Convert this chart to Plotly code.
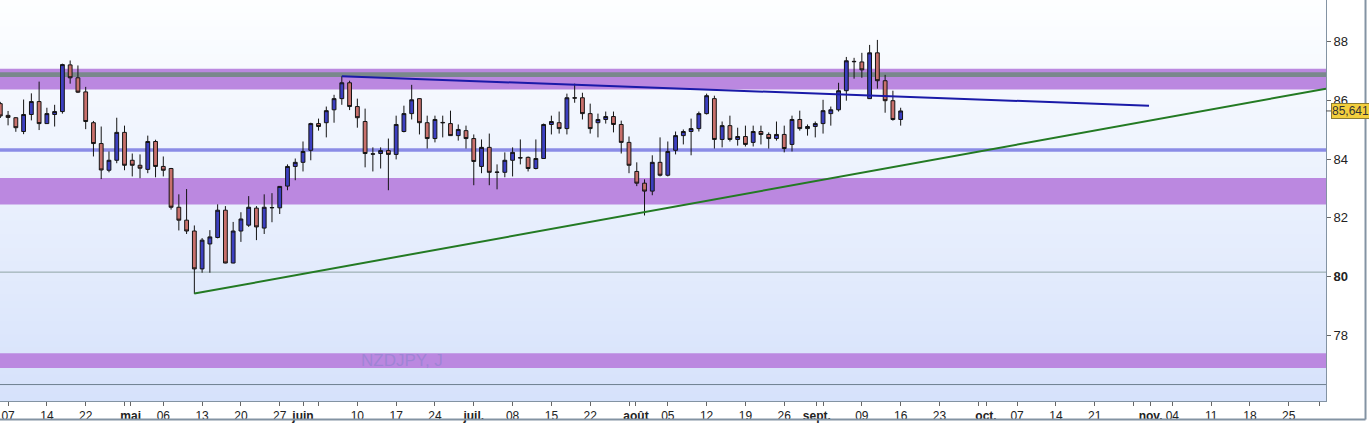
import plotly.graph_objects as go
import pandas as pd

# NZDJPY daily candles, 5 Apr - 16 Sep 2024
opens = [85.89, 85.49, 85.41, 84.94, 85.52, 85.96, 85.21, 85.52, 85.62, 87.21,
         86.77, 86.29, 85.24, 84.53, 83.62, 83.96, 84.91, 83.96, 83.79, 83.65,
         84.60, 83.75, 83.68, 82.36, 81.92, 81.55, 80.26, 81.11, 81.33, 82.26,
         80.46, 81.55, 81.75, 82.33, 81.65, 82.34, 82.34, 83.08, 83.75, 83.89,
         84.30, 85.21, 85.24, 85.68, 86.06, 86.60, 85.79, 85.28, 84.18, 84.19,
         84.29, 84.16, 84.94, 85.55, 86.06, 85.24, 84.70, 85.25, 85.21, 84.80,
         84.97, 84.70, 83.75, 84.40, 83.56, 83.55, 83.96, 84.05, 84.06, 83.68,
         84.02, 85.18, 85.24, 85.04, 86.09, 86.09, 85.55, 85.24, 85.35, 85.45,
         85.18, 84.57, 83.58, 83.18, 82.91, 83.89, 83.45, 84.30, 84.80, 84.94,
         85.04, 85.55, 86.06, 84.67, 85.14, 84.67, 84.77, 84.57, 84.94, 84.84,
         84.70, 84.84, 84.50, 85.35, 85.04, 85.11, 85.21, 85.55, 85.68, 86.33,
         87.33, 87.31, 86.06, 87.62, 86.67, 85.99, 85.35]
highs = [85.95, 85.64, 85.43, 86.03, 86.24, 86.64, 85.75, 85.85, 87.25, 87.36,
         87.19, 86.46, 85.30, 85.11, 84.26, 85.41, 85.14, 84.19, 84.16, 84.80,
         84.66, 84.09, 83.70, 82.80, 82.98, 81.74, 81.31, 81.58, 82.46, 82.40,
         81.86, 82.19, 82.74, 82.40, 82.80, 82.84, 83.08, 83.82, 84.02, 84.60,
         85.24, 85.38, 85.79, 86.19, 86.82, 86.67, 86.06, 85.72, 84.40, 84.40,
         84.70, 85.48, 85.82, 86.53, 86.07, 85.48, 85.48, 85.48, 85.65, 85.18,
         85.14, 84.84, 84.67, 84.87, 83.82, 84.23, 84.40, 84.67, 84.09, 84.67,
         85.21, 85.48, 85.62, 86.23, 86.57, 86.26, 85.89, 85.55, 85.62, 85.62,
         85.31, 84.77, 83.89, 83.31, 84.13, 84.74, 84.60, 84.94, 85.01, 85.38,
         85.62, 86.23, 86.16, 85.28, 85.48, 85.07, 85.14, 85.14, 85.14, 84.91,
         85.28, 85.14, 85.48, 85.65, 85.18, 85.28, 86.02, 85.79, 86.60, 87.48,
         87.45, 87.62, 87.89, 88.06, 86.87, 86.33, 85.75]
lows = [85.40, 85.15, 84.93, 84.85, 85.32, 84.99, 85.20, 85.11, 85.55, 86.57,
        86.25, 85.02, 84.09, 83.32, 83.55, 83.86, 83.62, 83.41, 83.35, 83.52,
        83.38, 83.41, 82.28, 81.57, 81.45, 79.41, 80.13, 80.13, 81.30, 80.45,
        80.45, 81.18, 81.69, 81.24, 81.45, 81.85, 82.13, 82.94, 83.28, 83.58,
        83.96, 84.97, 84.74, 85.24, 85.85, 85.67, 85.07, 83.72, 83.58, 83.68,
        82.94, 83.99, 84.91, 85.35, 84.84, 84.36, 84.57, 84.74, 84.79, 84.63,
        84.36, 83.11, 83.52, 83.11, 82.97, 83.38, 83.41, 83.82, 83.58, 83.65,
        84.01, 84.84, 84.87, 84.84, 85.92, 85.35, 84.87, 84.74, 85.21, 84.91,
        84.19, 83.52, 83.08, 82.08, 82.77, 83.41, 83.41, 84.16, 84.50, 84.13,
        84.94, 85.52, 84.36, 84.40, 84.60, 84.46, 84.43, 84.43, 84.50, 84.36,
        84.63, 84.23, 84.26, 84.97, 84.80, 84.74, 84.87, 85.14, 85.62, 85.99,
        86.74, 86.77, 86.05, 86.40, 85.58, 85.31, 85.14]
closes = [85.47, 85.42, 85.07, 85.52, 85.96, 85.21, 85.55, 85.62, 87.22, 86.77,
          86.28, 85.28, 84.53, 83.63, 83.96, 84.91, 83.79, 83.79, 83.69, 84.60,
          83.75, 83.62, 82.36, 81.92, 81.55, 80.26, 81.24, 81.35, 82.26, 80.46,
          81.55, 81.96, 82.36, 81.69, 82.36, 82.35, 83.07, 83.75, 83.89, 84.26,
          85.21, 85.11, 85.65, 86.06, 86.60, 85.79, 85.41, 84.19, 84.17, 84.29,
          84.16, 85.18, 85.55, 86.02, 85.24, 84.70, 85.35, 85.24, 84.80, 85.01,
          84.70, 83.92, 84.40, 83.55, 83.55, 83.96, 84.23, 84.04, 83.68, 84.02,
          85.18, 85.28, 85.04, 86.09, 86.08, 85.55, 85.04, 85.35, 85.45, 85.18,
          84.57, 83.79, 83.18, 82.91, 83.89, 83.45, 84.26, 84.80, 84.94, 85.04,
          85.55, 86.16, 84.67, 85.14, 84.67, 84.77, 84.50, 84.94, 84.84, 84.70,
          84.84, 84.36, 85.35, 85.04, 85.11, 85.21, 85.65, 85.68, 86.33, 87.35,
          87.32, 87.04, 87.62, 86.67, 85.99, 85.35, 85.641]
dates = pd.bdate_range("2024-04-05", periods=len(opens))
bar_idx = list(range(len(opens)))
last_price = 85.641

# horizontal zones (low, high) and single levels
purple_zones = [(86.37, 87.08), (82.45, 83.36), (76.88, 77.39)]
grey_zone = (86.80, 86.96)
blue_zone = (84.25, 84.37)
thin_levels = [80.15, 76.32]

# trend lines: (bar index, price)
resistance = [(44, 86.82), (148, 85.82)]
support = [(25, 79.42), (170.8, 86.40)]

# x axis ticks (bar index) and labels
tick_pos = [1, 6, 11, 16, 16.8, 21, 26, 31, 36, 39, 41, 46, 51, 56, 61, 66, 71,
            76, 81, 81.9, 86, 91, 96, 101, 105.2, 106, 111, 116, 121, 126, 127,
            131, 136, 141, 146, 148.2, 151, 156, 161, 166, 170]
tick_text = ["07", "14", "22", "", "<b>mai</b>", "06", "13", "20", "27",
             "<b>juin</b>", "", "10", "17", "24", "<b>juil.</b>", "08", "15",
             "22", "", "<b>août</b>", "05", "12", "19", "26", "<b>sept.</b>",
             "", "09", "16", "23", "", "<b>oct.</b>", "07", "14", "21", "",
             "<b>nov.</b>", "04", "11", "18", "25", ""]
y_ticks = [78, 80, 82, 84, 86, 88]
y_text = ["78", "<b>80</b>", "82", "84", "86", "88"]

font_axis = "Liberation Sans Narrow, Arial Narrow, Liberation Sans, sans-serif"

fig = go.Figure()
fig.add_trace(go.Candlestick(
    x=bar_idx, open=opens, high=highs, low=lows, close=closes,
    text=[d.strftime("%d/%m/%Y") for d in dates], hoverinfo="text",
    increasing=dict(fillcolor="#3c3fc0", line=dict(color="#141414", width=1)),
    decreasing=dict(fillcolor="#c8706c", line=dict(color="#141414", width=1)),
    whiskerwidth=0, showlegend=False))

fig.add_trace(go.Scatter(x=[p[0] for p in resistance], y=[p[1] for p in resistance],
                         mode="lines", line=dict(color="#1a1aa8", width=2),
                         hoverinfo="skip", showlegend=False))
fig.add_trace(go.Scatter(x=[p[0] for p in support], y=[p[1] for p in support],
                         mode="lines", line=dict(color="#237a23", width=2),
                         hoverinfo="skip", showlegend=False))

shapes = []
# background gradient (white at top to pale blue at bottom)
n = 60
top, bot = (253, 254, 255), (214, 226, 251)
for k in range(n):
    t = k / (n - 1)
    c = tuple(round(bot[j] + (top[j] - bot[j]) * t) for j in range(3))
    shapes.append(dict(type="rect", xref="paper", yref="paper", x0=0, x1=1,
                       y0=k / n, y1=(k + 1) / n + 0.002, layer="below",
                       line=dict(width=0), fillcolor="rgb(%d,%d,%d)" % c))
for lo, hi in purple_zones:
    shapes.append(dict(type="rect", xref="paper", yref="y", x0=0, x1=1, y0=lo, y1=hi,
                       layer="below", line=dict(width=0), fillcolor="#bb88e0"))
shapes.append(dict(type="rect", xref="paper", yref="y", x0=0, x1=1, y0=grey_zone[0],
                   y1=grey_zone[1], layer="below", line=dict(width=0), fillcolor="#7a888c"))
shapes.append(dict(type="rect", xref="paper", yref="y", x0=0, x1=1, y0=blue_zone[0],
                   y1=blue_zone[1], layer="below", line=dict(width=0), fillcolor="#8b8ce6"))
for lv, col in zip(thin_levels, ["#8fa5a5", "#6f7f8f"]):
    shapes.append(dict(type="line", xref="paper", yref="y", x0=0, x1=1, y0=lv, y1=lv,
                       layer="below", line=dict(color=col, width=1)))
# little tick next to last price, and window frame
shapes.append(dict(type="line", xref="paper", yref="y", x0=1, x1=1.005,
                   y0=last_price, y1=last_price, line=dict(color="#555", width=1)))
shapes.append(dict(type="line", xref="paper", yref="paper", x0=1.0298, x1=1.0298,
                   y0=-0.046, y1=1, line=dict(color="#8393a3", width=2)))
shapes.append(dict(type="line", xref="paper", yref="paper", x0=0, x1=1.0298,
                   y0=-0.046, y1=-0.046, line=dict(color="#8393a3", width=2)))

fig.update_layout(
    width=1369, height=423,
    margin=dict(l=0, r=43, t=0, b=20),
    paper_bgcolor="white", plot_bgcolor="white",
    shapes=shapes, hovermode="closest",
    annotations=[
        dict(text="NZDJPY, J", x=51.75, y=77.15, xref="x", yref="y", showarrow=False,
             font=dict(family="Liberation Sans, Arial, sans-serif", size=17,
                       color="rgba(140,130,205,0.6)")),
        dict(text="85,641", x=1, y=last_price, xref="paper", yref="y", xanchor="left",
             xshift=5, showarrow=False, bgcolor="#f3cf3d", bordercolor="#8c7c30",
             borderwidth=1, borderpad=0,
             font=dict(family=font_axis, size=12, color="#333")),
    ],
    xaxis=dict(range=[-0.04, 170.8], rangeslider=dict(visible=False), showgrid=False,
               zeroline=False, tickmode="array", tickvals=tick_pos, ticktext=tick_text,
               ticks="outside", ticklen=4, tickcolor="#666", showline=True,
               linecolor="#8393a3", linewidth=1,
               tickfont=dict(family=font_axis, size=12, color="#222")),
    yaxis=dict(range=[75.76, 89.42], side="right", showgrid=False, zeroline=False,
               tickmode="array", tickvals=y_ticks, ticktext=y_text,
               ticks="outside", ticklen=4, tickcolor="#666", showline=True,
               linecolor="#8393a3", linewidth=1,
               tickfont=dict(family=font_axis, size=13, color="#222")),
)

# the page's default body margin would shift the chart by 8px
fig.write_html("out.html", config={"displayModeBar": False},
               post_script="document.body.style.margin='0';")
